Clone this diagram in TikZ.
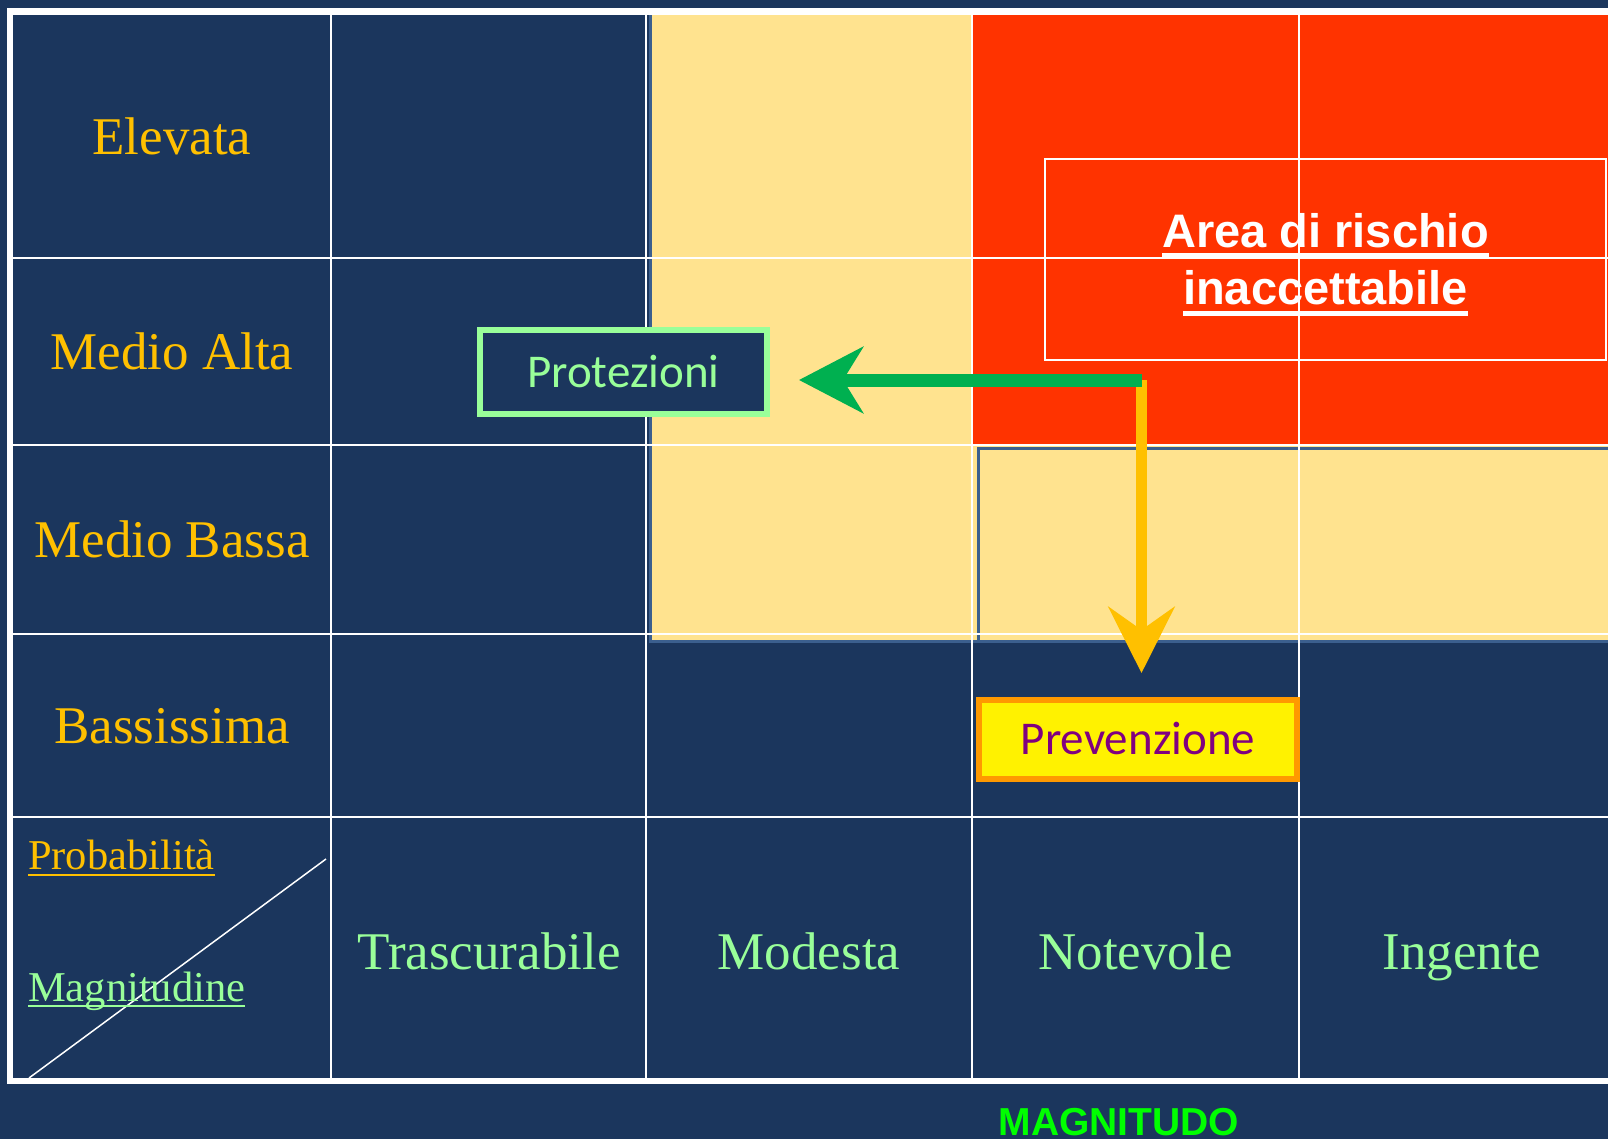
\documentclass[tikz,border=0pt]{standalone}
\usepackage{fontspec}
\setmainfont{Liberation Serif}
\newfontfamily\carl{Carlito}
\newfontfamily\lsans{Liberation Sans}
\usetikzlibrary{arrows.meta}
\definecolor{navy}{HTML}{1B365D}
\definecolor{paleyel}{HTML}{FFE38F}
\definecolor{riskred}{HTML}{FF3300}
\definecolor{steel}{HTML}{3B5F8E}
\definecolor{gold}{HTML}{FFC000}
\definecolor{lgreen}{HTML}{99FF99}
\definecolor{agreen}{HTML}{00B050}
\definecolor{borange}{HTML}{FF9900}
\definecolor{purp}{HTML}{800080}
\definecolor{mgreen}{HTML}{00FF00}
\newcommand{\ulx}[3]{\setbox0\hbox{#3}\rlap{\rule[#1]{\wd0}{#2}}\box0}
\begin{document}
\begin{tikzpicture}[x=1pt,y=-1pt,
  gridline/.style={white, line width=2.5pt},
  rowlab/.style={anchor=base, inner sep=0, text=gold, font=\fontsize{53}{60}\selectfont},
  collab/.style={anchor=base, inner sep=0, text=lgreen, font=\fontsize{53}{60}\selectfont},
  risktext/.style={anchor=base, inner sep=0, text=white, font=\lsans\bfseries\fontsize{47}{52}\selectfont},
  tagbox/.style={line width=6pt, minimum height=84pt, inner sep=0, text height=30pt, text depth=0pt, font=\carl\fontsize{47}{52}\selectfont}]
\useasboundingbox (0,0) rectangle (1608,1139);
\fill[navy] (0,0) rectangle (1608,1139);
% coloured zones
\filldraw[fill=paleyel, draw=steel, line width=3pt] (650,14) rectangle (1625,641);
\fill[riskred] (973,14) rectangle (1625,444);
\filldraw[fill=paleyel, draw=steel, line width=3pt] (978,448) rectangle (1625,641);
% grid
\foreach \yy in {258,445,634,817} \draw[gridline] (10,\yy) -- (1625,\yy);
\foreach \xx in {331,646,972,1299} \draw[gridline] (\xx,11) -- (\xx,1081);
\draw[white, line width=6.5pt] (10,11.5) rectangle (1630,1081);
% risk area frame
\node[draw=white, line width=1.5pt, minimum width=561pt, minimum height=201pt, inner sep=0] (riskbox) at (1325.5,259.5) {};
\node[risktext] (risk1) at (1325.5,248) {\ulx{-9pt}{4pt}{Area di rischio}};
\node[risktext] (risk2) at (1325.5,305) {\ulx{-11.5pt}{5pt}{inaccettabile}};
% diagonal of corner cell
\coordinate (dgA) at (29,1078);
\coordinate (dgB) at (326,859);
\draw[white, line width=1.5pt] (dgA) -- (dgB);
% row labels
\node[rowlab] (elev) at (172,154.5) {Elevata};
\node[rowlab] (malta) at (172,370) {Medio Alta};
\node[rowlab] (mbassa) at (172,557.5) {Medio Bassa};
\node[rowlab] (bass) at (172,743.5) {Bassissima};
% column labels
\node[collab] (trasc) at (489,969) {Trascurabile};
\node[collab] (modesta) at (809,969) {Modesta};
\node[collab] (notev) at (1135.5,969) {Notevole};
\node[collab] (ingente) at (1462,969) {Ingente};
% corner labels
\node[anchor=base west, inner sep=0, text=gold, font=\fontsize{42.5}{48}\selectfont] (prob) at (28,869) {\ulx{-6.5pt}{2pt}{Probabilità}};
\node[anchor=base west, inner sep=0, text=lgreen, font=\fontsize{42.5}{48}\selectfont] (magnit) at (28,1001) {\ulx{-6pt}{2pt}{Magnitudine}};
% boxes
\node[tagbox, draw=lgreen, fill=navy, text=lgreen, minimum width=287pt] (prot) at (623.5,372) {Protezioni};
\node[tagbox, draw=borange, fill=yellow, text=purp, minimum width=318pt, minimum height=79pt] (prev) at (1138,739.5) {Prevenzione};
% arrows
\coordinate (corner) at (1141.5,380);
\draw[gold, line width=11.5pt, -{Stealth[length=66pt,width=66pt,inset=23pt]}, shorten >=24pt] (corner) -- (corner |- prev.north);
\draw[agreen, line width=13pt, -{Stealth[length=64pt,width=66pt,inset=20pt]}, shorten >=29pt] (corner) -- (corner -| prot.east);
% axis title
\node[anchor=base, inner sep=0, text=mgreen, font=\lsans\bfseries\fontsize{39}{45}\selectfont] (magnitudo) at (1119,1135) {MAGNITUDO};
\end{tikzpicture}
\end{document}
